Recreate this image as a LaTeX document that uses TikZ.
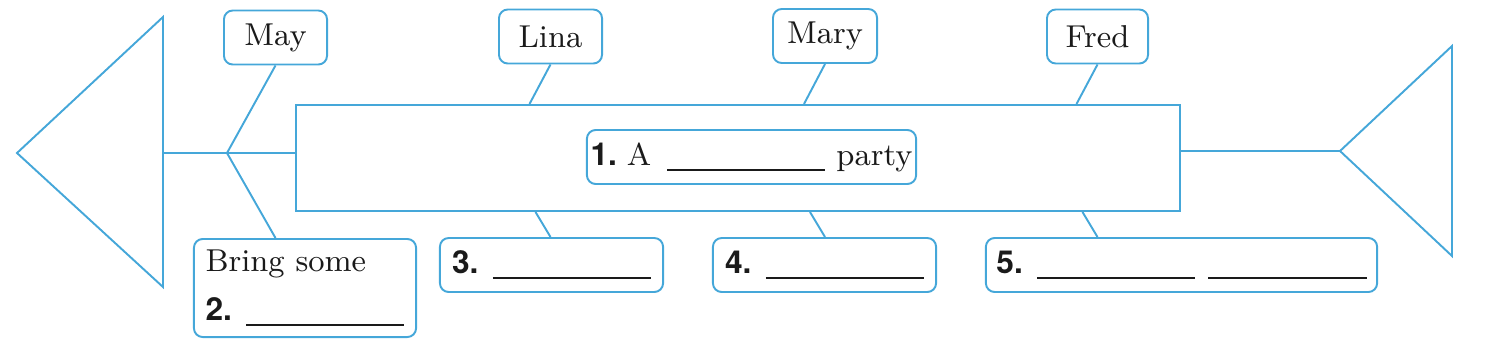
\documentclass[tikz,border=0pt]{standalone}
\usepackage{fontspec}
\usepackage{tikz}
\usetikzlibrary{positioning,calc}
\newfontfamily\numfont{TeX Gyre Heros}
\definecolor{fishblue}{HTML}{45A7D9}
\definecolor{ink}{HTML}{1A1A1A}
\newcommand{\qnum}[1]{{\numfont\bfseries #1}}
\newcommand{\blank}{\rule[-1.6pt]{1.58cm}{0.55pt}}
\tikzset{
  fishline/.style={draw=fishblue,line width=0.55pt},
  namebox/.style={draw=fishblue,line width=0.55pt,rounded corners=2.5pt,
                  minimum width=1.03cm,minimum height=0.54cm,inner sep=1pt,
                  text=ink,font=\fontsize{9}{11}\selectfont},
  ansbox/.style={draw=fishblue,line width=0.55pt,rounded corners=2.5pt,
                 minimum height=0.54cm,inner sep=1pt,align=left,
                 text=ink,font=\fontsize{9}{11}\selectfont},
  bodybox/.style={draw=fishblue,line width=0.55pt,minimum width=8.84cm,
                  minimum height=1.06cm}
}

\begin{document}
\begin{tikzpicture}[x=0.01cm,y=-0.01cm]
  \useasboundingbox (0,0) rectangle (1491,345);

  % fish body and title
  \node[bodybox] (body) at (738,158) {};
  \node[ansbox,minimum width=3.29cm] (title) at (751.5,157)
    {\qnum{1.}\hspace{0.1cm}A\hspace{0.16cm}\blank\hspace{0.11cm}party};

  % names on top
  \node[namebox] (may)  at (275.5,37.5) {May};
  \node[namebox] (lina) at (550.5,36.5) {Lina};
  \node[namebox,minimum width=1.04cm] (mary) at (825,36) {Mary};
  \node[namebox,minimum width=1.01cm] (fred) at (1097.5,36.5) {Fred};

  % answers below
  \node[ansbox,minimum width=2.22cm,minimum height=0.98cm] (bring) at (305,288)
    {Bring some\\[3pt]\qnum{2.} \blank};
  \node[ansbox,minimum width=2.23cm] (ans3) at (551.5,265) {\qnum{3.} \blank};
  \node[ansbox,minimum width=2.23cm] (ans4) at (824.5,265) {\qnum{4.} \blank};
  \node[ansbox,minimum width=3.91cm] (ans5) at (1181.5,265)
    {\qnum{5.} \blank\hspace{0.13cm}\blank};

  % head and tail
  \coordinate (tailL) at (163,153);
  \coordinate (fork) at (227,153);
  \coordinate (headR) at (1340,151);
  \draw[fishline] (17,153) -- (163,17) -- (163,287) -- cycle;
  \draw[fishline] (headR) -- (1452,46) -- (1452,256) -- cycle;
  \draw[fishline] (tailL) -- (tailL -| body.west);
  \draw[fishline] (headR -| body.east) -- (headR);

  % bones
  \draw[fishline] (may.south) -- (fork) -- (may.south |- bring.north);
  \foreach \who/\ans in {lina/ans3,mary/ans4,fred/ans5}{
    \draw[fishline] (\who.south) -- ($(\who.south |- body.north)+(-21,0)$);
    \draw[fishline] ($(\who.south |- body.south)+(-15,0)$) -- (\who.south |- \ans.north);
  }
\end{tikzpicture}
\end{document}
